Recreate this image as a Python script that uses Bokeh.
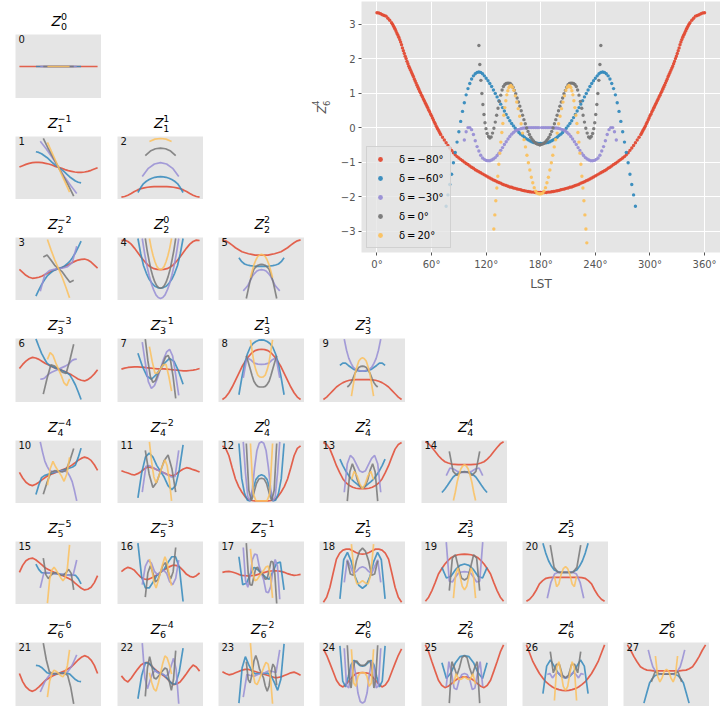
import numpy as np
from bokeh.embed import file_html
from bokeh.resources import INLINE
from bokeh.plotting import figure
from bokeh.layouts import column, row
from bokeh.models import Range1d, Label, FixedTicker, Legend

COLORS = ["#E24A33", "#348ABD", "#988ED5", "#777777", "#FBC15E"]
DECLINATIONS = ["δ\u2009=\u2009−80°", "δ\u2009=\u2009−60°", "δ\u2009=\u2009−30°", "δ\u2009=\u20090°", "δ\u2009=\u200920°"]

# Orders of the 28 panels: radial n and azimuthal m
N_ORDER = [0, 1, 1, 2, 2, 2, 3, 3, 3, 3, 4, 4, 4, 4, 4, 5, 5, 5, 5, 5, 5, 6, 6, 6, 6, 6, 6, 6]
M_ORDER = [0, -1, 1, -2, 0, 2, -3, -1, 1, 3, -4, -2, 0, 2, 4, -5, -3, -1, 1, 3, 5, -6, -4, -2, 0, 2, 4, 6]

# LST span of each declination in the small panels (degrees)
SPAN_START = [0, 76, 96, 110, 129]

# Small panels: heights on a 0-190 scale, from the span's start to LST 180,
# series order -80, -60, -30, 0, 20.  The other half follows from the parity of m.
panel_00 = [[95, 95], [95, 95], [95, 95], [95, 95], [95, 95]]
panel_01 = [[98, 102, 106, 109, 111, 112, 112, 111, 109, 107, 104, 100, 97], [144, 142, 138, 132, 126, 118, 110, 103, 97], [176, 152, 126, 97], [184, 153, 125, 97], [172, 135, 97]]
panel_02 = [[7, 9, 13, 18, 24, 29, 33, 35, 37, 38, 39, 39, 39], [21, 36, 48, 55, 60, 64, 67, 68, 69], [69, 94, 107, 111], [132, 146, 153, 155], [175, 182, 184]]
panel_03 = [[94, 85, 76, 70, 67, 68, 70, 74, 79, 84, 89, 93, 96], [13, 31, 48, 62, 74, 82, 89, 93, 96], [28, 78, 90, 94, 96], [131, 137, 122, 106, 96], [184, 152, 122, 96]]
panel_04 = [[181, 182, 178, 170, 158, 145, 131, 119, 108, 101, 96, 94, 93], [187, 141, 105, 82, 64, 52, 43, 39, 37], [187, 143, 106, 76, 51, 32, 17, 9, 6], [187, 150, 120, 93, 72, 56, 45, 39, 37], [187, 158, 135, 117, 103, 96, 93]]
panel_05 = [[183, 180, 174, 167, 159, 153, 147, 144, 141, 139, 137, 137, 137], [129, 117, 110, 107, 105, 104, 103, 103, 103], [29, 37, 45, 59, 73, 82, 89, 92, 93], [6, 33, 59, 78, 94, 101, 106, 108, 109], [69, 90, 109, 123, 133, 137, 139]]
panel_06 = [[101, 113, 123, 130, 134, 132, 128, 122, 116, 111, 106, 102, 99], [189, 167, 146, 130, 116, 110, 106, 102, 99], [69, 70, 73, 80, 86, 90, 93, 96, 99], [25, 72, 112, 108, 99], [128, 148, 140, 118, 99]]
panel_07 = [[99, 102, 104, 105, 106, 106, 105, 104, 103, 102, 101, 100, 100], [146, 107, 78, 69, 82, 100], [179, 118, 62, 42, 50, 72, 100], [188, 125, 77, 60, 65, 84, 100], [166, 122, 87, 88, 100]]
panel_08 = [[9, 16, 29, 46, 66, 86, 106, 122, 136, 147, 154, 157, 158], [23, 72, 115, 144, 164, 175, 181, 185, 186], [73, 133, 127, 117, 114, 113], [139, 120, 101, 81, 63, 54, 48, 46, 46], [186, 150, 116, 96, 81, 76, 75]]
panel_09 = [[9, 16, 26, 36, 46, 53, 59, 63, 66, 67, 68, 68, 68], [110, 117, 117, 110, 104, 98, 95, 93, 93], [188, 155, 131, 116, 104, 99, 96, 94, 93], [46, 51, 59, 72, 86, 96, 104, 107, 108], [19, 52, 86, 106, 123, 130, 133]]
panel_10 = [[94, 77, 64, 57, 54, 58, 64, 72, 79, 85, 89, 93, 97], [27, 55, 78, 84, 87, 90, 92, 95, 97], [186, 155, 128, 112, 100, 97, 96, 96, 97], [28, 64, 94, 99, 97], [55, 105, 127, 110, 97]]
panel_11 = [[99, 95, 92, 88, 86, 90, 96, 104, 110, 109, 106, 101, 97], [17, 92, 140, 152, 140, 115, 97], [34, 112, 114, 108, 102, 97], [160, 89, 48, 64, 97], [186, 125, 80, 62, 78, 97]]
panel_12 = [[174, 166, 144, 108, 74, 51, 34, 20, 11, 9, 8, 8, 8], [181, 75, 30, 10, 8, 42, 72, 83, 87], [186, 90, 20, 8, 45, 110, 160, 182, 186], [181, 40, 8, 32, 60, 74, 76], [181, 30, 8, 8, 8]]
panel_13 = [[184, 178, 164, 140, 114, 93, 74, 62, 54, 49, 46, 45, 45], [134, 115, 99, 86, 74, 66, 59, 52, 47], [34, 120, 145, 136, 118, 99, 94], [7, 95, 120, 100, 70, 52, 46], [72, 97, 84, 60, 44]]
panel_14 = [[186, 180, 169, 157, 144, 134, 126, 122, 119, 118, 117, 117, 117], [33, 43, 55, 68, 80, 87, 93, 95, 95], [84, 107, 104, 97, 94, 94], [157, 97, 85, 94, 96], [9, 34, 64, 86, 104, 113, 117]]
panel_15 = [[97, 118, 132, 138, 140, 135, 127, 119, 110, 105, 100, 96, 92], [122, 106, 96, 95, 95, 95, 94, 93, 92], [50, 96, 96, 94, 93, 92], [140, 90, 78, 88, 95, 96, 92], [4, 75, 104, 112, 103, 92]]
panel_16 = [[99, 107, 112, 109, 103, 92, 82, 77, 75, 79, 84, 90, 97], [185, 82, 50, 50, 67, 87, 97], [60, 115, 134, 125, 100, 90, 97], [22, 95, 117, 95, 68, 75, 97], [137, 110, 68, 50, 72, 97]]
panel_17 = [[97, 99, 100, 98, 95, 91, 88, 87, 86, 87, 88, 91, 94], [144, 60, 64, 90, 112, 105, 94], [172, 72, 52, 85, 135, 152, 150, 115, 94], [185, 95, 60, 58, 85, 110, 112, 100, 94], [168, 100, 72, 75, 85, 94]]
panel_18 = [[7, 22, 52, 95, 137, 155, 164, 167, 167, 162, 157, 153, 152], [17, 135, 157, 130, 85, 58, 49], [67, 135, 115, 93, 100, 110, 114], [132, 92, 88, 132, 160, 170], [182, 90, 62, 65, 72]]
panel_19 = [[10, 22, 42, 66, 92, 108, 122, 133, 142, 147, 150, 151, 152], [112, 80, 85, 105, 118, 122], [188, 70, 68, 82, 95, 98, 99], [42, 140, 150, 112, 80, 74], [19, 90, 110, 85, 55, 44]]
panel_20 = [[10, 16, 27, 43, 62, 72, 79, 81, 82, 82, 82, 82, 82], [185, 155, 132, 116, 104, 100, 97, 97, 97], [19, 67, 92, 97, 97, 97], [179, 112, 97, 97, 97], [85, 54, 62, 90, 108, 114]]
panel_21 = [[98, 74, 58, 49, 45, 50, 58, 68, 78, 84, 90, 94, 98], [122, 121, 116, 108, 100, 97, 96, 97, 98], [43, 58, 73, 84, 93, 96, 98, 98, 98], [188, 138, 103, 98, 98, 98], [28, 75, 98, 108, 104, 98]]
panel_22 = [[91, 79, 73, 84, 98, 111, 123, 129, 131, 123, 113, 105, 98], [23, 92, 130, 128, 115, 103, 98], [188, 85, 53, 78, 100, 106, 100, 98], [30, 115, 148, 120, 85, 82, 90, 98], [100, 72, 52, 46, 68, 98]]
panel_23 = [[103, 98, 94, 96, 100, 104, 108, 110, 110, 107, 104, 101, 98], [10, 115, 148, 125, 105, 97, 98, 98], [28, 95, 92, 90, 95, 98], [133, 80, 70, 95, 135, 151, 135, 110, 98], [188, 105, 70, 65, 80, 98]]
panel_24 = [[171, 152, 128, 103, 78, 64, 58, 66, 78, 89, 98, 100, 101], [180, 75, 58, 90, 125, 137, 130, 122, 120], [173, 62, 55, 115, 135, 95, 40, 15, 10], [182, 85, 55, 110, 135, 135, 127, 122, 122], [170, 70, 60, 90, 100, 101]]
panel_25 = [[183, 162, 133, 105, 78, 63, 56, 60, 68, 76, 83, 87, 88], [130, 83, 100, 130, 148, 151], [60, 133, 100, 55, 50, 80, 95, 98], [10, 133, 115, 93, 115, 145, 151], [66, 97, 80, 82, 88]]
panel_26 = [[183, 158, 133, 115, 98, 85, 73, 65, 58, 53, 50, 48, 47], [38, 120, 138, 120, 100, 88, 85], [95, 98, 85, 95, 101, 95, 88, 85], [163, 100, 125, 125, 93, 85], [18, 115, 133, 100, 60, 48]]
panel_27 = [[183, 167, 148, 132, 118, 112, 108, 107, 106, 106, 106, 106, 106], [10, 40, 70, 83, 92, 95, 96, 96, 96], [168, 141, 118, 107, 98, 97, 96, 96, 96], [73, 103, 98, 96, 96], [150, 90, 73, 85, 105, 110]]

PANELS = [panel_00, panel_01, panel_02, panel_03, panel_04, panel_05, panel_06, panel_07,
          panel_08, panel_09, panel_10, panel_11, panel_12, panel_13, panel_14, panel_15,
          panel_16, panel_17, panel_18, panel_19, panel_20, panel_21, panel_22, panel_23,
          panel_24, panel_25, panel_26, panel_27]

# Large panel: half of each track, Z_6^4 against LST
RED_LST = list(range(0, 16, 2)) + list(range(16, 71)) + list(range(72, 182, 2))
RED_Z = [3.33, 3.32, 3.30, 3.27, 3.25, 3.23, 3.17, 3.11,
         3.04, 3.00, 2.95, 2.90, 2.85, 2.79, 2.73, 2.68, 2.62, 2.55, 2.48, 2.40, 2.31, 2.23, 2.15, 2.07, 2.00,
         1.92, 1.85, 1.78, 1.72, 1.66, 1.60, 1.54, 1.48, 1.41, 1.35, 1.29, 1.23, 1.17, 1.11, 1.05, 1.00, 0.94,
         0.89, 0.83, 0.78, 0.72, 0.67, 0.61, 0.56, 0.50, 0.45, 0.39, 0.34, 0.28, 0.22, 0.16, 0.11, 0.05, 0.00,
         -0.05, -0.10, -0.15, -0.20,
         -0.28, -0.36, -0.44, -0.52, -0.59, -0.66, -0.73, -0.79, -0.84, -0.88,
         -0.92, -0.96, -1.00, -1.04, -1.07, -1.11, -1.15, -1.18, -1.22, -1.25, -1.28, -1.31, -1.34, -1.37,
         -1.40, -1.43, -1.46, -1.49, -1.52, -1.54, -1.57, -1.59, -1.61, -1.64, -1.66, -1.68, -1.70, -1.72,
         -1.73, -1.75, -1.76, -1.78, -1.79, -1.80, -1.82, -1.83, -1.84, -1.85, -1.86, -1.87, -1.87, -1.88,
         -1.88, -1.88, -1.88]
BLUE_Z = [-2.28, -1.95, -1.65, -1.35, -1.02, -0.72, -0.42, -0.12, 0.18, 0.47, 0.72, 0.95, 1.13, 1.28, 1.41,
          1.50, 1.56, 1.60, 1.61, 1.60, 1.56, 1.50, 1.43, 1.36, 1.28, 1.19, 1.09, 0.99, 0.89, 0.78, 0.68,
          0.58, 0.48, 0.38, 0.29, 0.20, 0.12, 0.05, -0.02, -0.08, -0.14, -0.19, -0.23, -0.28, -0.32, -0.35,
          -0.38, -0.41, -0.43, -0.44, -0.45, -0.46, -0.46]
BLUE_LST = list(range(76, 182, 2))
PURPLE_Z = [-0.36, -0.12, 0.00, 0.00, -0.06, -0.20, -0.38, -0.55, -0.68, -0.80, -0.88, -0.92, -0.95, -0.96,
            -0.96, -0.94, -0.91, -0.87, -0.81, -0.74, -0.66, -0.58, -0.49, -0.41, -0.33, -0.26, -0.19, -0.14,
            -0.10, -0.07, -0.05, -0.03, -0.02, -0.01, -0.01, 0.00, 0.00, 0.00, 0.00, 0.00, 0.00, 0.00]
PURPLE_LST = list(range(96, 180, 2))
GREY_LST = [112, 113, 114.2, 115.3, 116.4, 117.6, 118.7, 119.8, 121, 122.5, 124, 125.5, 127, 128.5, 130, 131.5,
            133, 134.5, 136, 137.5, 139, 140.5, 142, 143.5, 145, 146.5, 148, 149.5, 151, 152.5, 154, 155.5,
            157, 158.5, 160, 161.5, 163, 164.5, 166, 167.5, 169, 170.5, 172, 173.5, 175, 176.5, 178, 179]
GREY_Z = [2.38, 1.83, 1.37, 0.99, 0.67, 0.38, 0.14, -0.03, -0.17, -0.26, -0.30, -0.27, -0.16, -0.02, 0.16, 0.36,
          0.56, 0.76, 0.94, 1.09, 1.19, 1.25, 1.28, 1.29, 1.29, 1.28, 1.24, 1.17, 1.08, 0.98, 0.86, 0.74,
          0.62, 0.49, 0.36, 0.23, 0.11, -0.01, -0.11, -0.20, -0.28, -0.34, -0.39, -0.43, -0.46, -0.48, -0.49, -0.50]
YELLOW_LST = [128.4, 129.5, 130.6, 131.7, 132.8, 133.9, 135, 136.1, 137.2, 138.3, 139.4, 140.5, 141.6, 142.7,
              143.8, 144.9, 146, 147.1, 148.8, 150.4, 152, 153.6, 155.2, 156.8, 158.4, 160, 161.6, 163.2,
              164.8, 166.4, 168, 169.6, 171.2, 172.8, 174.4, 176, 177.5, 179]
YELLOW_Z = [-2.94, -2.53, -2.12, -1.75, -1.41, -1.06, -0.74, -0.42, -0.14, 0.12, 0.36, 0.58, 0.78, 0.95,
            1.07, 1.16, 1.20, 1.22, 1.17, 1.08, 0.92, 0.74, 0.55, 0.33, 0.11, -0.16, -0.35, -0.56,
            -0.80, -1.02, -1.23, -1.44, -1.60, -1.74, -1.84, -1.90, -1.92, -1.92]
YELLOW_END_LST = [230.6]
YELLOW_END_Z = [-3.34]
CENTRES = [180, 180, 179.5, 179, 179]
BIG_LST = [RED_LST, BLUE_LST, PURPLE_LST, GREY_LST, YELLOW_LST]
BIG_Z = [RED_Z, BLUE_Z, PURPLE_Z, GREY_Z, YELLOW_Z]
X_TICKS = [0, 60, 120, 180, 240, 300, 360]
X_TICK_LABELS = ["0°", "60°", "120°", "180°", "240°", "300°", "360°"]
Y_TICKS = [-3, -2, -1, 0, 1, 2, 3]
X_LABEL = "LST"

FONT = "DejaVu Sans"
BG = "#E5E5E5"


def full_curve(i, vals, m):
    start = SPAN_START[i]
    half = np.linspace(start, 180, len(vals))
    x = np.concatenate([half, 360 - half[-2::-1]])
    v = np.array(vals, dtype=float)
    if m >= 0:
        y = np.concatenate([v, v[-2::-1]])
    else:
        y = np.concatenate([v, 2 * v[-1] - v[-2::-1]])
    return x, y


def blank(width, height):
    p = figure(width=width, height=height, x_range=Range1d(0, width), y_range=Range1d(0, height),
               x_axis_location=None, y_axis_location=None, toolbar_location=None, output_backend="svg",
               min_border_left=0, min_border_right=0, min_border_top=0, min_border_bottom=0,
               background_fill_color="white", border_fill_color="white", outline_line_color=None)
    p.grid.visible = False
    return p


def small(idx, left, top, frame_h):
    n, m = N_ORDER[idx], M_ORDER[idx]
    head = blank(left + 86, top)
    sup = str(m).replace("-", "−")
    sub = str(n)
    w = 10 + 1 + 6.2 * len(sup) + (2 if m < 0 else 0)
    x0 = left + 43 - w / 2 - 7
    common = dict(text_font=FONT, text_color="black", text_baseline="middle")
    head.add_layout(Label(x=x0, y=13.3, text="Z", text_font_size="14px", text_font_style="italic", **common))
    head.add_layout(Label(x=x0 + 11, y=18, text=sup, text_font_size="9.5px", **common))
    head.add_layout(Label(x=x0 + 11, y=8, text=sub, text_font_size="9.5px", **common))
    p = figure(width=left + 86, height=frame_h, x_range=Range1d(-18, 378), y_range=Range1d(0, 190),
               x_axis_location=None, y_axis_location=None, toolbar_location=None, output_backend="svg",
               min_border_left=left, min_border_right=0, min_border_top=0, min_border_bottom=0,
               background_fill_color=BG, border_fill_color="white", outline_line_color=None)
    p.grid.visible = False
    for i, vals in enumerate(PANELS[idx]):
        x, y = full_curve(i, vals, m)
        p.line(x, y, line_color=COLORS[i], line_width=1.7, line_alpha=0.85)
    p.add_layout(Label(x=-18, y=190, x_offset=3, y_offset=-4.5, text=str(idx), text_font=FONT,
                       text_font_size="10px", text_color="#111111", text_baseline="middle"))
    return column(head, p, spacing=0)


def y_label_strip():
    p = blank(25, 300)
    ya = dict(angle=np.pi / 2, text_font=FONT, text_color="#555555", text_baseline="middle")
    p.add_layout(Label(x=11.6, y=166, text="Z", text_font_size="11.5px", text_font_style="italic", **ya))
    p.add_layout(Label(x=5, y=175, text="4", text_font_size="8.5px", **ya))
    p.add_layout(Label(x=15.6, y=175, text="6", text_font_size="8.5px", **ya))
    return p


def big():
    p = figure(width=385, height=300, x_range=Range1d(-17, 377.5), y_range=Range1d(-3.62, 3.655),
               toolbar_location=None, output_backend="svg", min_border_left=26, min_border_right=0,
               min_border_top=1, min_border_bottom=48, background_fill_color=BG, border_fill_color="white",
               outline_line_color=None)
    p.grid.grid_line_color = "white"
    p.grid.grid_line_width = 1
    p.xaxis.ticker = FixedTicker(ticks=X_TICKS)
    p.yaxis.ticker = FixedTicker(ticks=Y_TICKS)
    p.xaxis.major_label_overrides = {t: s for t, s in zip(X_TICKS, X_TICK_LABELS)}
    p.yaxis.major_label_overrides = {t: str(t).replace("-", "−") for t in Y_TICKS}
    for ax in (p.xaxis[0], p.yaxis[0]):
        ax.axis_line_color = None
        ax.major_tick_line_color = "#555555"
        ax.major_tick_in = 0
        ax.major_tick_out = 3
        ax.minor_tick_line_color = None
        ax.major_label_text_color = "#555555"
        ax.major_label_text_font = FONT
        ax.major_label_text_font_size = "10px"
        ax.major_label_standoff = 3
    p.xaxis.axis_label = X_LABEL
    p.xaxis.axis_label_text_font = FONT
    p.xaxis.axis_label_text_font_size = "12px"
    p.xaxis.axis_label_text_font_style = "normal"
    p.xaxis.axis_label_text_color = "#555555"
    p.xaxis.axis_label_standoff = 4
    items = []
    for i in range(5):
        c = CENTRES[i]
        xh = np.array(BIG_LST[i], dtype=float)
        yh = np.array(BIG_Z[i], dtype=float)
        x = np.concatenate([xh, 2 * c - xh[::-1]])
        y = np.concatenate([yh, yh[::-1]])
        if i == 4:
            x = np.concatenate([x, YELLOW_END_LST])
            y = np.concatenate([y, YELLOW_END_Z])
        r = p.scatter(x, y, size=3.4, fill_color=COLORS[i], line_color=None, fill_alpha=0.95)
        items.append((DECLINATIONS[i], [r]))
    leg = Legend(items=items, location=(5, 4), margin=0, padding=6, spacing=7, glyph_width=14, glyph_height=12,
                 label_height=12, label_standoff=12, label_text_font=FONT, label_text_font_size="10px",
                 label_text_color="black", background_fill_color=BG, background_fill_alpha=0.8,
                 border_line_color="#CCCCCC", border_line_alpha=0.8)
    p.add_layout(leg, "center")
    return p


GAPS = [15, 16, 15, 15, 16, 15, 15]
ROW_TOPS = [34, 38, 38, 38, 38, 38, 38]
ROW_FRAME = [64, 63, 63, 64, 63, 63, 64]


def make_row(r, first):
    return row(*[small(first + j, GAPS[j], ROW_TOPS[r], ROW_FRAME[r]) for j in range(r + 1)], spacing=0)


rows = []
first = 0
for r in range(7):
    rows.append(make_row(r, first))
    first += r + 1

left_block = column(rows[0], rows[1], rows[2], spacing=0, width=310)
top = row(left_block, y_label_strip(), big(), spacing=0)
root = column(top, rows[3], rows[4], rows[5], rows[6], spacing=0)

open("out.html", "w").write(file_html(root, INLINE))
